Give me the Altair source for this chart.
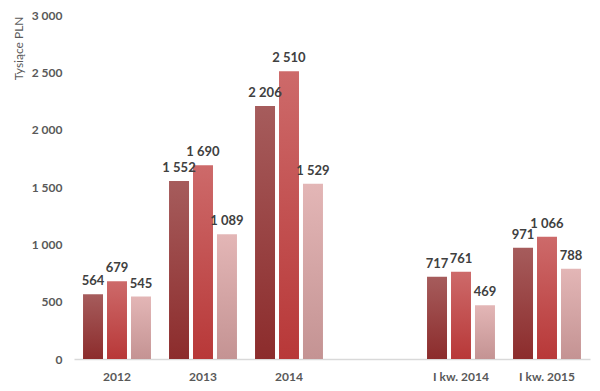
import altair as alt
import pandas as pd

categories = ["2012", "2013", "2014", " ", "I kw. 2014", "I kw. 2015"]
data_cats = ["2012", "2013", "2014", "I kw. 2014", "I kw. 2015"]
series = ["A", "B", "C"]
values_a = [564, 1552, 2206, 717, 971]
values_b = [679, 1690, 2510, 761, 1066]
values_c = [545, 1089, 1529, 469, 788]
y_ticks = [0, 500, 1000, 1500, 2000, 2500, 3000]

gradients = {
    "A": ("#a65c5c", "#8c2c2c"),
    "B": ("#cd6a6a", "#b83838"),
    "C": ("#e3b6b6", "#c49393"),
}

rows = []
for s, vals in zip(series, [values_a, values_b, values_c]):
    for c, v in zip(data_cats, vals):
        rows.append({"cat": c, "s": s, "v": v})
df = pd.DataFrame(rows)

FONT = "Lato"

x_enc = alt.X("cat:N", scale=alt.Scale(domain=categories, paddingInner=0.21, paddingOuter=0.105),
              axis=alt.Axis(title=None, labelAngle=0, ticks=False, domainColor="#d9d9d9",
                            domainWidth=1.5, labelPadding=12, labelFont=FONT, labelFontSize=12,
                            labelFontWeight="bold", labelColor="#595959"))
xo_enc = alt.XOffset("s:N", scale=alt.Scale(domain=series, paddingInner=0.1667, paddingOuter=0))
y_enc = alt.Y("v:Q", scale=alt.Scale(domain=[0, 3000], nice=False),
              axis=alt.Axis(title="Tysiące PLN", values=y_ticks, grid=False, domain=False, ticks=False,
                            labelExpr="replace(format(datum.value, ',d'), ',', ' ')",
                            labelPadding=12, labelFont=FONT, labelFontSize=12, labelFontWeight="bold",
                            labelColor="#595959", titleFont=FONT, titleFontSize=12,
                            titleFontWeight="normal", titleColor="#595959", titleAngle=270,
                            titleX=-56, titleY=1, titleAlign="right", titleBaseline="middle"))

layers = []
for s in series:
    top, bot = gradients[s]
    layers.append(
        alt.Chart(df).transform_filter(alt.datum.s == s).mark_bar(
            color=alt.Gradient(gradient="linear",
                               stops=[alt.GradientStop(color=top, offset=0),
                                      alt.GradientStop(color=bot, offset=1)],
                               x1=0, x2=0, y1=0, y2=1)
        ).encode(x=x_enc, xOffset=xo_enc, y=y_enc)
    )

text = alt.Chart(df).transform_calculate(
    lab="replace(format(datum.v, ',d'), ',', ' ')"
).mark_text(baseline="bottom", dy=-6, font=FONT, fontSize=13, fontWeight="bold", color="#404040").encode(
    x=x_enc, xOffset=xo_enc, y=y_enc, text="lab:N"
)

chart = alt.layer(*layers, text).properties(
    width=516, height=344,
    autosize=alt.AutoSizeParams(type="none"),
    padding={"left": 66, "top": 7, "right": 2, "bottom": 30},
).configure_view(stroke=None)

chart.save("out.html", embed_options={"renderer": "svg", "actions": False})
